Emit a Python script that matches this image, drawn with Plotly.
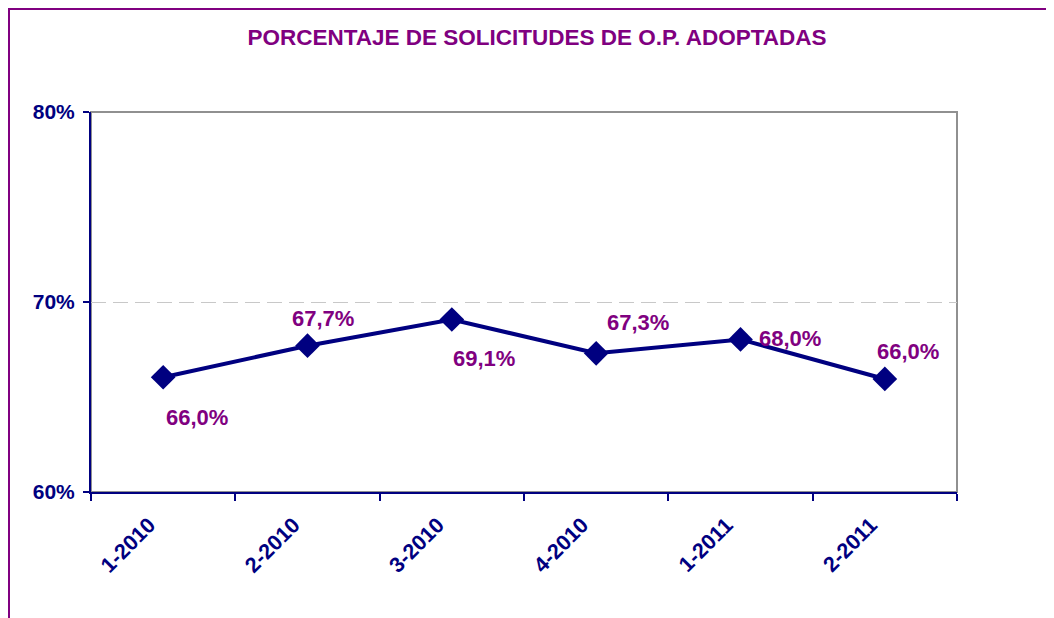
import plotly.graph_objects as go

categories = ["1-2010", "2-2010", "3-2010", "4-2010", "1-2011", "2-2011"]
values = [66.04, 67.7, 69.08, 67.3, 68.03, 65.95]
labels = ["66,0%", "67,7%", "69,1%", "67,3%", "68,0%", "66,0%"]
y_ticks = [60, 70, 80]

NAVY = "#000080"
PURPLE = "#800080"
FONT = "Liberation Sans, Arial, sans-serif"

# label offsets (pixels) relative to each point
label_dx = [34, 15, 32, 42, 49, 23]
label_dy = [-40, 27, -39, 31, 1, 27]

# page has an 8px body margin; work in figure coordinates
L, R, T, B = 83, 949, 104, 484
W, H = 1054, 618
pw, ph = R - L, B - T

fig = go.Figure()
fig.add_trace(go.Scatter(
    x=categories, y=values, mode="lines+markers",
    line=dict(color=NAVY, width=4),
    marker=dict(symbol="diamond", size=19, color=NAVY),
    hoverinfo="skip", showlegend=False,
))

for c, v, t, dx, dy in zip(categories, values, labels, label_dx, label_dy):
    fig.add_annotation(x=c, y=v, text=t, showarrow=False, xshift=dx, yshift=dy,
                       font=dict(family=FONT, size=22, color=PURPLE, weight="bold"))

# plot area border (gray top/right)
fig.add_shape(type="rect", xref="paper", yref="paper", x0=0, y0=0, x1=1, y1=1,
              line=dict(color="#909090", width=2), layer="below")
# outer purple frame
fig.add_shape(type="rect", xref="paper", yref="paper",
              x0=(1 - L) / pw, x1=(W + 50 - L) / pw,
              y0=(B - (H + 50)) / ph, y1=(B - 1) / ph,
              line=dict(color=PURPLE, width=2))

fig.update_layout(
    width=W, height=H,
    margin=dict(l=L, r=W - R, t=T, b=H - B),
    paper_bgcolor="white", plot_bgcolor="white",
    title=dict(text="<b>PORCENTAJE DE SOLICITUDES DE O.P. ADOPTADAS</b>",
               x=529 / W, xref="container", xanchor="center",
               y=1 - 29 / H, yref="container", yanchor="middle",
               font=dict(family=FONT, size=22.5, color=PURPLE)),
    font=dict(family=FONT),
)
fig.update_xaxes(
    type="category", tickson="boundaries", ticks="outside", ticklen=7,
    tickcolor=NAVY, tickwidth=1.5, showline=True, linecolor=NAVY, linewidth=2,
    tickangle=-45, showgrid=False, ticklabelstandoff=10, ticklabelshift=-14,
    tickfont=dict(family=FONT, size=21.5, color=NAVY, weight="bold"),
    range=[-0.5, 5.5],
)
fig.update_yaxes(
    range=[60, 80], tickvals=y_ticks, ticktext=[f"{v}%" for v in y_ticks],
    ticks="outside", ticklen=6, tickcolor=NAVY, tickwidth=1.5,
    showline=True, linecolor=NAVY, linewidth=2,
    showgrid=True, gridcolor="#c8c8c8", griddash="15px,7px", gridwidth=1,
    zeroline=False, ticklabelstandoff=4,
    tickfont=dict(family=FONT, size=21, color=NAVY, weight="bold"),
)

fig.write_html("out.html")
